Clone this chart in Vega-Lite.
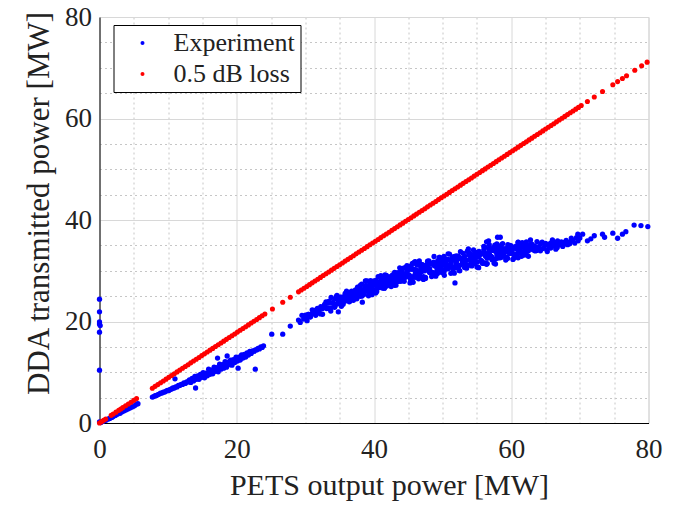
{
"$schema": "https://vega.github.io/schema/vega-lite/v6.json",
"width": 549,
"height": 406,
"autosize": {"type": "none"},
"padding": {"left": 99.5, "top": 17, "right": 32, "bottom": 87},
"background": "white",
"config": {
  "font": "Liberation Serif",
  "view": {"stroke": "#d4d4d4", "strokeWidth": 1}
},
"datasets": {
  "exp": [
    {"x":0,"y":24.4},{"x":0,"y":21.9},{"x":0,"y":19.9},{"x":0,"y":19.5},{"x":0.1,"y":19.2},{"x":0,"y":17.9},{"x":0,"y":10.4},{"x":0,"y":0.2},{"x":0.2,"y":0.1},
    {"x":0.5,"y":0.3},{"x":0.8,"y":0.5},{"x":1.0,"y":0.6},{"x":1.3,"y":0.8},{"x":1.5,"y":0.9},{"x":1.8,"y":1.1},{"x":2.0,"y":1.3},{"x":2.3,"y":1.5},{"x":2.6,"y":1.7},{"x":3.0,"y":1.9},{"x":3.3,"y":2.2},{"x":3.6,"y":2.4},{"x":3.9,"y":2.6},{"x":4.2,"y":2.8},{"x":4.5,"y":3.0},{"x":4.8,"y":3.2},{"x":5.1,"y":3.4},{"x":5.4,"y":3.7},{"x":5.6,"y":3.8},
    {"x":7.7,"y":5.1},{"x":7.9,"y":5.2},{"x":8.1,"y":5.4},{"x":8.3,"y":5.4},{"x":8.5,"y":5.6},{"x":8.7,"y":5.7},{"x":8.9,"y":5.9},{"x":9.1,"y":5.9},{"x":9.3,"y":6.1},{"x":9.5,"y":6.1},{"x":9.7,"y":6.3},{"x":9.9,"y":6.4},{"x":10.1,"y":6.4},{"x":10.3,"y":6.6},{"x":10.5,"y":6.7},{"x":10.7,"y":6.9},{"x":10.9,"y":6.9},{"x":11.1,"y":7.1},{"x":11.3,"y":7.1},{"x":11.5,"y":7.4},{"x":11.7,"y":7.4},{"x":11.9,"y":7.6},{"x":12.1,"y":7.6},{"x":12.3,"y":7.9},{"x":12.5,"y":7.8},{"x":12.7,"y":8.1},{"x":12.9,"y":8.1},
    {"x":13.1,"y":8.5},{"x":13.3,"y":8.0},{"x":13.5,"y":8.8},{"x":13.7,"y":8.3},{"x":13.9,"y":9.2},{"x":14.1,"y":8.6},{"x":14.3,"y":9.3},{"x":14.5,"y":8.6},{"x":14.7,"y":9.6},{"x":14.9,"y":9.0},{"x":15.1,"y":9.9},{"x":15.3,"y":8.9},{"x":15.5,"y":9.8},{"x":15.7,"y":9.3},{"x":15.9,"y":10.6},{"x":16.1,"y":9.6},{"x":16.3,"y":10.4},{"x":16.5,"y":9.7},{"x":16.7,"y":11.0},{"x":16.9,"y":10.2},{"x":17.1,"y":10.9},{"x":17.3,"y":10.1},{"x":17.5,"y":11.6},{"x":17.7,"y":10.6},{"x":17.9,"y":11.5},{"x":18.1,"y":10.8},{"x":18.3,"y":12.1},{"x":18.5,"y":11.0},{"x":18.7,"y":12.0},{"x":18.9,"y":11.5},{"x":19.1,"y":12.4},{"x":19.3,"y":11.4},{"x":19.5,"y":12.5},{"x":19.7,"y":11.9},{"x":19.9,"y":13.0},{"x":20.1,"y":12.2},{"x":20.3,"y":13.0},{"x":20.5,"y":12.4},{"x":20.7,"y":13.4},{"x":20.9,"y":12.8},{"x":21.1,"y":13.5},{"x":21.3,"y":13.0},{"x":21.5,"y":13.8},{"x":21.7,"y":13.4},{"x":21.9,"y":14.1},{"x":22.1,"y":13.7},{"x":22.3,"y":14.2},{"x":22.5,"y":14.1},{"x":22.7,"y":14.4},{"x":22.9,"y":14.4},{"x":23.1,"y":14.7},{"x":23.3,"y":14.6},{"x":23.5,"y":15.0},{"x":23.7,"y":14.9},{"x":23.9,"y":15.2},
    {"x":14.2,"y":8.9},{"x":14.6,"y":9.1},{"x":15.0,"y":9.2},{"x":15.4,"y":9.6},{"x":15.8,"y":9.7},{"x":16.2,"y":10.1},{"x":16.6,"y":10.3},{"x":17.0,"y":10.6},{"x":17.4,"y":10.8},{"x":17.8,"y":11.2},{"x":18.2,"y":11.4},{"x":18.6,"y":11.7},{"x":19.0,"y":11.8},{"x":19.4,"y":12.1},{"x":19.8,"y":12.3},{"x":20.2,"y":12.6},{"x":20.6,"y":12.8},{"x":21.0,"y":13.1},
    {"x":17.2,"y":12.8},{"x":18.6,"y":13.2},{"x":20.2,"y":10.8},{"x":22.7,"y":10.6},{"x":14.0,"y":6.9},{"x":11.0,"y":8.7},
    {"x":25.1,"y":17.5},{"x":26.7,"y":17.5},{"x":27.8,"y":19.1},
    {"x":29.00,"y":20.29},{"x":29.25,"y":19.81},{"x":29.50,"y":21.22},{"x":29.75,"y":20.47},{"x":30.00,"y":21.25},{"x":30.25,"y":20.17},{"x":30.50,"y":21.42},{"x":30.75,"y":20.97},{"x":31.00,"y":22.31},{"x":31.25,"y":21.68},{"x":31.50,"y":21.22},{"x":31.75,"y":22.57},{"x":32.00,"y":22.06},{"x":32.25,"y":22.94},{"x":32.50,"y":21.43},{"x":32.75,"y":23.01},{"x":33.00,"y":23.88},{"x":33.25,"y":22.63},{"x":33.50,"y":22.50},{"x":33.75,"y":24.75},
    {"x":34.00,"y":23.64},{"x":34.25,"y":22.81},{"x":34.50,"y":24.92},{"x":34.75,"y":23.67},{"x":35.00,"y":24.80},{"x":35.25,"y":22.99},{"x":35.50,"y":24.82},{"x":35.75,"y":23.99},{"x":36.00,"y":25.96},{"x":36.25,"y":24.85},{"x":36.50,"y":24.02},{"x":36.75,"y":25.99},{"x":37.00,"y":25.16},{"x":37.25,"y":26.01},{"x":37.50,"y":24.48},{"x":37.75,"y":26.03},{"x":38.00,"y":27.09},{"x":38.25,"y":25.52},{"x":38.50,"y":25.30},{"x":38.75,"y":27.98},
    {"x":39.00,"y":26.57},{"x":39.25,"y":25.53},{"x":39.50,"y":28.06},{"x":39.75,"y":26.51},{"x":40.00,"y":27.85},{"x":40.25,"y":25.60},{"x":40.50,"y":27.76},{"x":40.75,"y":26.70},{"x":41.00,"y":29.03},{"x":41.25,"y":27.63},{"x":41.50,"y":26.56},{"x":41.75,"y":28.90},{"x":42.00,"y":27.83},{"x":42.25,"y":28.81},{"x":42.50,"y":26.89},{"x":42.75,"y":28.72},{"x":43.00,"y":29.69},{"x":43.25,"y":28.12},{"x":43.50,"y":27.90},{"x":43.75,"y":30.58},
    {"x":44.00,"y":29.17},{"x":44.25,"y":28.11},{"x":44.50,"y":30.61},{"x":44.75,"y":29.04},{"x":45.00,"y":30.60},{"x":45.25,"y":27.60},{"x":45.50,"y":30.31},{"x":45.75,"y":28.85},{"x":46.00,"y":31.78},{"x":46.25,"y":29.88},{"x":46.50,"y":28.41},{"x":46.75,"y":31.35},{"x":47.00,"y":29.88},{"x":47.25,"y":31.06},{"x":47.50,"y":28.49},{"x":47.75,"y":30.77},{"x":48.00,"y":31.94},{"x":48.25,"y":29.82},{"x":48.50,"y":29.45},{"x":48.75,"y":32.83},
    {"x":49.00,"y":30.92},{"x":49.25,"y":29.46},{"x":49.50,"y":32.61},{"x":49.75,"y":30.49},{"x":50.00,"y":32.10},{"x":50.25,"y":29.10},{"x":50.50,"y":31.81},{"x":50.75,"y":30.35},{"x":51.00,"y":33.28},{"x":51.25,"y":31.38},{"x":51.50,"y":29.91},{"x":51.75,"y":32.85},{"x":52.00,"y":31.38},{"x":52.25,"y":32.56},{"x":52.50,"y":29.99},{"x":52.75,"y":32.27},{"x":53.00,"y":33.44},{"x":53.25,"y":31.32},{"x":53.50,"y":30.95},{"x":53.75,"y":34.33},
    {"x":54.00,"y":32.42},{"x":54.25,"y":30.96},{"x":54.50,"y":34.11},{"x":54.75,"y":31.99},{"x":55.00,"y":33.60},{"x":55.25,"y":30.60},{"x":55.50,"y":33.31},{"x":55.75,"y":31.85},{"x":56.00,"y":34.78},{"x":56.25,"y":32.88},{"x":56.50,"y":31.41},{"x":56.75,"y":34.35},{"x":57.00,"y":32.88},{"x":57.25,"y":34.06},{"x":57.50,"y":31.49},{"x":57.75,"y":33.77},{"x":58.00,"y":34.66},{"x":58.25,"y":32.91},{"x":58.50,"y":32.60},{"x":58.75,"y":35.35},
    {"x":59.00,"y":33.78},{"x":59.25,"y":32.57},{"x":59.50,"y":35.14},{"x":59.75,"y":33.39},{"x":60.00,"y":34.70},{"x":60.25,"y":32.23},{"x":60.50,"y":34.44},{"x":60.75,"y":33.23},{"x":61.00,"y":35.62},{"x":61.25,"y":34.05},{"x":61.50,"y":32.84},{"x":61.75,"y":35.23},{"x":62.00,"y":34.02},{"x":62.25,"y":34.97},{"x":62.50,"y":32.86},{"x":62.75,"y":34.71},{"x":63.00,"y":35.24},{"x":63.25,"y":34.09},{"x":63.50,"y":33.90},{"x":63.75,"y":35.75},
    {"x":64.00,"y":34.72},{"x":64.25,"y":33.93},{"x":64.50,"y":35.66},{"x":64.75,"y":34.51},{"x":65.00,"y":35.40},{"x":65.25,"y":33.77},{"x":65.50,"y":35.26},{"x":65.75,"y":34.47},{"x":66.00,"y":36.08},{"x":66.25,"y":35.05},{"x":66.50,"y":34.26},{"x":66.75,"y":35.87},{"x":67.00,"y":35.13},{"x":67.25,"y":35.56},{"x":67.50,"y":34.79},{"x":67.75,"y":35.57},{"x":68.00,"y":35.99},{"x":68.25,"y":35.37},{"x":68.50,"y":35.30},{"x":68.75,"y":36.43},
    {"x":69.00,"y":35.87},{"x":69.25,"y":35.46},{"x":69.50,"y":36.51},{"x":69.75,"y":35.89},{"x":70.00,"y":36.45},
    {"x":33.1,"y":22.54},{"x":33.4,"y":23.98},{"x":33.7,"y":22.06},{"x":34.0,"y":23.78},{"x":34.3,"y":22.98},{"x":34.6,"y":25.12},{"x":34.9,"y":23.90},{"x":35.2,"y":24.78},{"x":35.5,"y":23.42},{"x":35.8,"y":25.56},{"x":36.1,"y":24.76},{"x":36.4,"y":24.38},{"x":36.7,"y":25.82},{"x":37.0,"y":24.18},{"x":37.3,"y":25.62},{"x":37.6,"y":26.08},{"x":37.9,"y":25.00},{"x":38.2,"y":27.37},{"x":38.5,"y":25.84},{"x":38.8,"y":27.96},
    {"x":39.1,"y":25.95},{"x":39.4,"y":27.66},{"x":39.7,"y":25.29},{"x":40.0,"y":27.34},{"x":40.3,"y":26.30},{"x":40.6,"y":28.83},{"x":40.9,"y":27.28},{"x":41.2,"y":28.28},{"x":41.5,"y":26.56},{"x":41.8,"y":29.09},{"x":42.1,"y":28.05},{"x":42.4,"y":27.52},{"x":42.7,"y":29.20},{"x":43.0,"y":27.14},{"x":43.3,"y":28.82},{"x":43.6,"y":29.31},{"x":43.9,"y":27.93},{"x":44.2,"y":30.46},{"x":44.5,"y":28.91},{"x":44.8,"y":31.02},
    {"x":45.1,"y":28.87},{"x":45.4,"y":30.94},{"x":45.7,"y":27.73},{"x":46.0,"y":30.24},{"x":46.3,"y":28.79},{"x":46.6,"y":31.96},{"x":46.9,"y":29.85},{"x":47.2,"y":31.04},{"x":47.5,"y":28.71},{"x":47.8,"y":31.88},{"x":48.1,"y":30.43},{"x":48.4,"y":29.64},{"x":48.7,"y":31.71},{"x":49.0,"y":28.94},{"x":49.3,"y":31.01},{"x":49.6,"y":31.54},{"x":49.9,"y":29.65},{"x":50.2,"y":32.82},{"x":50.5,"y":30.71},{"x":50.8,"y":33.33},
    {"x":51.1,"y":30.67},{"x":51.4,"y":32.74},{"x":51.7,"y":29.53},{"x":52.0,"y":32.04},{"x":52.3,"y":30.59},{"x":52.6,"y":33.76},{"x":52.9,"y":31.65},{"x":53.2,"y":32.84},{"x":53.5,"y":30.51},{"x":53.8,"y":33.68},{"x":54.1,"y":32.23},{"x":54.4,"y":31.44},{"x":54.7,"y":33.51},{"x":55.0,"y":30.74},{"x":55.3,"y":32.81},{"x":55.6,"y":33.34},{"x":55.9,"y":31.45},{"x":56.2,"y":34.62},{"x":56.5,"y":32.51},{"x":56.8,"y":35.13},
    {"x":57.1,"y":32.47},{"x":57.4,"y":34.54},{"x":57.7,"y":31.33},{"x":58.0,"y":33.76},{"x":58.3,"y":32.56},{"x":58.6,"y":35.14},{"x":58.9,"y":33.40},{"x":59.2,"y":34.36},{"x":59.5,"y":32.44},{"x":59.8,"y":35.02},{"x":60.1,"y":33.82},{"x":60.4,"y":33.16},{"x":60.7,"y":34.84},{"x":61.0,"y":32.56},{"x":61.3,"y":34.24},{"x":61.6,"y":34.66},{"x":61.9,"y":33.10},{"x":62.2,"y":35.68},{"x":62.5,"y":33.94},{"x":62.8,"y":36.07},
    {"x":35.15,"y":24.61},{"x":35.50,"y":24.12},{"x":35.85,"y":24.61},{"x":36.20,"y":24.19},{"x":36.55,"y":25.73},{"x":36.90,"y":25.10},{"x":37.25,"y":25.73},{"x":37.60,"y":25.17},{"x":37.95,"y":26.43},{"x":38.30,"y":25.13},{"x":38.65,"y":26.77},{"x":39.00,"y":26.06},{"x":39.35,"y":26.59},{"x":39.70,"y":26.07},{"x":40.05,"y":27.88},{"x":40.40,"y":27.03},{"x":40.75,"y":27.72},{"x":41.10,"y":26.95},{"x":41.45,"y":28.41},{"x":41.80,"y":26.96},
    {"x":42.15,"y":28.59},{"x":42.50,"y":27.91},{"x":42.85,"y":28.43},{"x":43.20,"y":27.83},{"x":43.55,"y":29.63},{"x":43.90,"y":28.78},{"x":44.25,"y":29.47},{"x":44.60,"y":28.70},{"x":44.95,"y":30.16},{"x":45.30,"y":28.38},{"x":45.65,"y":30.36},{"x":46.00,"y":29.36},{"x":46.35,"y":29.91},{"x":46.70,"y":29.02},{"x":47.05,"y":31.22},{"x":47.40,"y":30.00},{"x":47.75,"y":30.77},{"x":48.10,"y":29.66},{"x":48.45,"y":31.42},{"x":48.80,"y":29.43},
    {"x":49.15,"y":31.41},{"x":49.50,"y":30.41},{"x":49.85,"y":30.96},{"x":50.20,"y":30.07},{"x":50.55,"y":32.27},{"x":50.90,"y":31.05},{"x":51.25,"y":31.82},{"x":51.60,"y":30.71},{"x":51.95,"y":32.47},{"x":52.30,"y":30.48},{"x":52.65,"y":32.46},{"x":53.00,"y":31.46},{"x":53.35,"y":32.01},{"x":53.70,"y":31.12},{"x":54.05,"y":33.32},{"x":54.40,"y":32.10},{"x":54.75,"y":32.87},{"x":55.10,"y":31.76},{"x":55.45,"y":33.52},{"x":55.80,"y":31.53},
    {"x":56.15,"y":33.51},{"x":56.50,"y":32.51},{"x":56.85,"y":33.06},{"x":57.20,"y":32.17},{"x":57.55,"y":34.37},{"x":57.90,"y":33.15},{"x":58.25,"y":33.81},{"x":58.60,"y":32.89},{"x":58.95,"y":34.31},{"x":59.30,"y":32.67},{"x":59.65,"y":34.27},{"x":60.00,"y":33.44},
    {"x":30.1,"y":20.73},{"x":30.4,"y":21.40},{"x":30.7,"y":20.88},{"x":31.0,"y":21.59},{"x":31.3,"y":22.21},{"x":31.6,"y":21.65},{"x":31.9,"y":22.36},{"x":32.2,"y":21.50},{"x":32.5,"y":22.55},{"x":32.8,"y":23.39},{"x":33.1,"y":22.75},{"x":33.4,"y":23.63},{"x":33.7,"y":22.69},{"x":34.0,"y":23.64},{"x":34.3,"y":24.45},{"x":34.6,"y":23.44},{"x":34.9,"y":24.39},{"x":35.2,"y":23.38},{"x":35.5,"y":24.40},{"x":35.8,"y":25.21},
    {"x":36.1,"y":24.55},{"x":36.4,"y":25.43},{"x":36.7,"y":24.49},{"x":37.0,"y":25.44},{"x":37.3,"y":26.25},{"x":37.6,"y":25.24},{"x":37.9,"y":26.19},{"x":38.2,"y":24.98},{"x":38.5,"y":26.15},{"x":38.8,"y":27.07},{"x":39.1,"y":26.20},{"x":39.4,"y":27.24},{"x":39.7,"y":26.05},{"x":40.0,"y":27.17},{"x":40.3,"y":28.09},{"x":40.6,"y":26.79},{"x":40.9,"y":27.88},{"x":41.2,"y":26.58},{"x":41.5,"y":27.75},{"x":41.8,"y":28.67},
    {"x":42.1,"y":27.79},{"x":42.4,"y":28.80},{"x":42.7,"y":27.58},{"x":43.0,"y":28.67},{"x":43.3,"y":29.59},{"x":43.6,"y":28.29},{"x":43.9,"y":29.38},{"x":44.2,"y":28.08},{"x":44.5,"y":29.25},{"x":44.8,"y":30.17},{"x":45.1,"y":29.20},{"x":45.4,"y":30.39},{"x":45.7,"y":28.72},{"x":46.0,"y":30.02},{"x":46.3,"y":31.10},{"x":46.6,"y":29.32},{"x":46.9,"y":30.62},{"x":47.2,"y":28.84},{"x":47.5,"y":30.25},{"x":47.8,"y":31.33},
    {"x":48.1,"y":30.10},{"x":48.4,"y":31.29},{"x":48.7,"y":29.62},{"x":49.0,"y":30.92},{"x":49.3,"y":32.00},{"x":49.6,"y":30.22},{"x":49.9,"y":31.52},{"x":50.2,"y":29.74},{"x":50.5,"y":31.15},{"x":50.8,"y":32.23},{"x":51.1,"y":31.00},{"x":51.4,"y":32.19},{"x":51.7,"y":30.52},{"x":52.0,"y":31.82},{"x":52.3,"y":32.90},{"x":52.6,"y":31.12},{"x":52.9,"y":32.42},{"x":53.2,"y":30.64},{"x":53.5,"y":32.05},{"x":53.8,"y":33.13},
    {"x":54.1,"y":31.90},{"x":54.4,"y":33.09},{"x":54.7,"y":31.42},{"x":55.0,"y":32.72},{"x":55.3,"y":33.80},{"x":55.6,"y":32.02},{"x":55.9,"y":33.32},{"x":56.2,"y":31.54},{"x":56.5,"y":32.95},{"x":56.8,"y":34.03},{"x":57.1,"y":32.80},{"x":57.4,"y":33.99},{"x":57.7,"y":32.32},{"x":58.0,"y":33.58},{"x":58.3,"y":34.45},{"x":58.6,"y":32.98},{"x":58.9,"y":34.03},{"x":59.2,"y":32.56},{"x":59.5,"y":33.70},{"x":59.8,"y":34.57},
    {"x":60.1,"y":33.55},{"x":60.4,"y":34.51},{"x":60.7,"y":33.13},{"x":61.0,"y":34.18},{"x":61.3,"y":35.05},{"x":61.6,"y":33.58},{"x":61.9,"y":34.63},{"x":62.2,"y":33.16},{"x":62.5,"y":34.30},{"x":62.8,"y":35.17},{"x":63.1,"y":34.24},{"x":63.4,"y":34.90},{"x":63.7,"y":34.00},{"x":64.0,"y":34.72},{"x":64.3,"y":35.32},{"x":64.6,"y":34.36},{"x":64.9,"y":35.08},{"x":65.2,"y":34.12},{"x":65.5,"y":34.90},{"x":65.8,"y":35.50},
    {"x":66.1,"y":34.84},{"x":66.4,"y":35.50},{"x":66.7,"y":34.60},{"x":67.0,"y":35.27},{"x":67.3,"y":35.68},{"x":67.6,"y":35.17},{"x":67.9,"y":35.65},{"x":68.2,"y":35.14},{"x":68.5,"y":35.65},{"x":68.8,"y":36.06},
    {"x":36.0,"y":25.54},{"x":36.4,"y":23.89},{"x":36.8,"y":25.39},{"x":37.2,"y":25.07},{"x":37.6,"y":26.78},{"x":38.0,"y":25.05},{"x":38.4,"y":26.19},{"x":38.8,"y":26.98},{"x":39.2,"y":25.07},{"x":39.6,"y":27.27},{"x":40.0,"y":28.02},{"x":40.4,"y":25.92},{"x":40.8,"y":27.66},{"x":41.2,"y":27.17},{"x":41.6,"y":29.16},{"x":42.0,"y":27.15},{"x":42.4,"y":28.29},{"x":42.8,"y":29.08},{"x":43.2,"y":27.15},{"x":43.6,"y":29.31},
    {"x":44.0,"y":30.02},{"x":44.4,"y":27.92},{"x":44.8,"y":29.66},{"x":45.2,"y":29.01},{"x":45.6,"y":31.44},{"x":46.0,"y":28.70},{"x":46.4,"y":30.03},{"x":46.8,"y":30.92},{"x":47.2,"y":28.29},{"x":47.6,"y":30.94},{"x":48.0,"y":31.72},{"x":48.4,"y":28.87},{"x":48.8,"y":30.97},{"x":49.2,"y":30.21},{"x":49.6,"y":32.64},{"x":50.0,"y":29.90},{"x":50.4,"y":31.23},{"x":50.8,"y":32.12},{"x":51.2,"y":29.49},{"x":51.6,"y":32.14},
    {"x":52.0,"y":32.92},{"x":52.4,"y":30.07},{"x":52.8,"y":32.17},{"x":53.2,"y":31.41},{"x":53.6,"y":33.84},{"x":54.0,"y":31.10},{"x":54.4,"y":32.43},{"x":54.8,"y":33.32},{"x":55.2,"y":30.69},{"x":55.6,"y":33.34},{"x":56.0,"y":34.12},{"x":56.4,"y":31.27},{"x":56.8,"y":33.37},{"x":57.2,"y":32.61},{"x":57.6,"y":35.04},{"x":58.0,"y":32.50},{"x":58.4,"y":33.57},{"x":58.8,"y":34.28},{"x":59.2,"y":32.11},{"x":59.6,"y":34.26},
    {"x":60.0,"y":34.88},{"x":60.4,"y":32.53},{"x":60.8,"y":34.23},{"x":61.2,"y":33.59},{"x":61.6,"y":35.56},{"x":62.0,"y":33.30},
    {"x":34.8,"y":21.9},{"x":38.3,"y":23.8},{"x":39.0,"y":28.0},{"x":45.9,"y":31.7},{"x":46.2,"y":31.3},{"x":51.8,"y":27.6},{"x":56.4,"y":35.7},{"x":56.7,"y":35.9},{"x":57.9,"y":35.3},{"x":58.0,"y":36.6},{"x":58.4,"y":36.6},{"x":61.5,"y":35.3},{"x":61.0,"y":35.6},{"x":69.7,"y":37.2},
    {"x":70.4,"y":37.2},{"x":71.1,"y":35.9},{"x":71.6,"y":36.3},{"x":72.1,"y":36.9},{"x":73.3,"y":37.2},{"x":73.6,"y":36.6},{"x":74.8,"y":37.4},{"x":75.5,"y":36.4},{"x":76.2,"y":37.2},{"x":76.7,"y":37.7},{"x":77.9,"y":39.0},{"x":78.9,"y":38.9},{"x":79.9,"y":38.7}
  ],
  "loss": [
    {"x":0,"y":0},{"x":0.3,"y":0.27},{"x":0.6,"y":0.53},{"x":0.9,"y":0.80},{"x":1.7,"y":1.51},{"x":2.0,"y":1.78},{"x":2.4,"y":2.14},{"x":2.8,"y":2.49},{"x":3.1,"y":2.76},{"x":3.4,"y":3.03},{"x":3.8,"y":3.39},{"x":4.2,"y":3.74},{"x":4.6,"y":4.10},{"x":5.0,"y":4.46},{"x":5.4,"y":4.81},
    {"x":7.7,"y":6.86},{"x":8.1,"y":7.22},{"x":8.5,"y":7.57},{"x":8.9,"y":7.93},{"x":9.3,"y":8.29},{"x":9.7,"y":8.64},{"x":10.1,"y":9.00},{"x":10.5,"y":9.36},{"x":10.9,"y":9.71},{"x":11.3,"y":10.07},{"x":11.7,"y":10.42},{"x":12.1,"y":10.78},{"x":12.5,"y":11.14},{"x":12.9,"y":11.49},{"x":13.3,"y":11.85},{"x":13.7,"y":12.21},{"x":14.1,"y":12.56},{"x":14.5,"y":12.92},{"x":14.9,"y":13.28},{"x":15.3,"y":13.63},{"x":15.7,"y":13.99},{"x":16.1,"y":14.35},{"x":16.5,"y":14.70},{"x":16.9,"y":15.06},{"x":17.3,"y":15.41},{"x":17.7,"y":15.77},{"x":18.1,"y":16.13},{"x":18.5,"y":16.48},{"x":18.9,"y":16.84},{"x":19.3,"y":17.20},{"x":19.7,"y":17.55},{"x":20.1,"y":17.91},{"x":20.5,"y":18.27},{"x":20.9,"y":18.62},{"x":21.3,"y":18.98},{"x":21.7,"y":19.33},{"x":22.1,"y":19.69},{"x":22.5,"y":20.05},{"x":22.9,"y":20.40},{"x":23.3,"y":20.76},{"x":23.7,"y":21.12},{"x":24.1,"y":21.47},
    {"x":25.2,"y":22.45},{"x":26.7,"y":23.79},{"x":27.8,"y":24.77},
    {"x":29.0,"y":25.84},{"x":29.4,"y":26.20},{"x":29.8,"y":26.55},{"x":30.2,"y":26.91},{"x":30.6,"y":27.26},{"x":31.0,"y":27.62},{"x":31.4,"y":27.98},{"x":31.8,"y":28.33},{"x":32.2,"y":28.69},{"x":32.6,"y":29.05},{"x":33.0,"y":29.40},{"x":33.4,"y":29.76},{"x":33.8,"y":30.12},{"x":34.2,"y":30.47},{"x":34.6,"y":30.83},{"x":35.0,"y":31.19},{"x":35.4,"y":31.54},{"x":35.8,"y":31.90},{"x":36.2,"y":32.25},{"x":36.6,"y":32.61},{"x":37.0,"y":32.97},{"x":37.4,"y":33.32},{"x":37.8,"y":33.68},{"x":38.2,"y":34.04},{"x":38.6,"y":34.39},{"x":39.0,"y":34.75},{"x":39.4,"y":35.11},{"x":39.8,"y":35.46},{"x":40.2,"y":35.82},{"x":40.6,"y":36.17},{"x":41.0,"y":36.53},{"x":41.4,"y":36.89},{"x":41.8,"y":37.24},{"x":42.2,"y":37.60},{"x":42.6,"y":37.96},{"x":43.0,"y":38.31},{"x":43.4,"y":38.67},{"x":43.8,"y":39.03},{"x":44.2,"y":39.38},{"x":44.6,"y":39.74},{"x":45.0,"y":40.10},{"x":45.4,"y":40.45},{"x":45.8,"y":40.81},{"x":46.2,"y":41.16},{"x":46.6,"y":41.52},{"x":47.0,"y":41.88},{"x":47.4,"y":42.23},{"x":47.8,"y":42.59},{"x":48.2,"y":42.95},{"x":48.6,"y":43.30},{"x":49.0,"y":43.66},{"x":49.4,"y":44.02},{"x":49.8,"y":44.37},{"x":50.2,"y":44.73},{"x":50.6,"y":45.08},{"x":51.0,"y":45.44},{"x":51.4,"y":45.80},{"x":51.8,"y":46.15},{"x":52.2,"y":46.51},{"x":52.6,"y":46.87},{"x":53.0,"y":47.22},{"x":53.4,"y":47.58},{"x":53.8,"y":47.94},{"x":54.2,"y":48.29},{"x":54.6,"y":48.65},{"x":55.0,"y":49.01},{"x":55.4,"y":49.36},{"x":55.8,"y":49.72},{"x":56.2,"y":50.07},{"x":56.6,"y":50.43},{"x":57.0,"y":50.79},{"x":57.4,"y":51.14},{"x":57.8,"y":51.50},{"x":58.2,"y":51.86},{"x":58.6,"y":52.21},{"x":59.0,"y":52.57},{"x":59.4,"y":52.93},{"x":59.8,"y":53.28},{"x":60.2,"y":53.64},{"x":60.6,"y":53.99},{"x":61.0,"y":54.35},{"x":61.4,"y":54.71},{"x":61.8,"y":55.06},{"x":62.2,"y":55.42},{"x":62.6,"y":55.78},{"x":63.0,"y":56.13},{"x":63.4,"y":56.49},{"x":63.8,"y":56.85},{"x":64.2,"y":57.20},{"x":64.6,"y":57.56},{"x":65.0,"y":57.92},{"x":65.4,"y":58.27},{"x":65.8,"y":58.63},{"x":66.2,"y":58.98},{"x":66.6,"y":59.34},{"x":67.0,"y":59.70},{"x":67.4,"y":60.05},{"x":67.8,"y":60.41},{"x":68.2,"y":60.77},{"x":68.6,"y":61.12},{"x":69.0,"y":61.48},{"x":69.4,"y":61.84},{"x":69.8,"y":62.19},{"x":70.2,"y":62.55},
    {"x":71.1,"y":63.35},{"x":72.1,"y":64.24},{"x":73.3,"y":65.31},{"x":74.8,"y":66.65},{"x":75.5,"y":67.27},{"x":76.2,"y":67.89},{"x":76.8,"y":68.43},{"x":78.0,"y":69.50},{"x":79.0,"y":70.39},{"x":79.8,"y":71.10}
  ]
},
"encoding": {
  "x": {
    "field": "x", "type": "quantitative",
    "scale": {"domain": [0, 80], "nice": false, "zero": false},
    "axis": {
      "title": "PETS output power [MW]",
      "values": [0,5,10,15,20,25,30,35,40,45,50,55,60,65,70,75,80],
      "labelExpr": "datum.value % 20 === 0 ? datum.label : ''",
      "grid": true,
      "gridColor": {"condition": {"test": "datum.value % 20 === 0", "value": "#d8d8d8"}, "value": "#c6c6c6"},
      "gridDash": {"condition": {"test": "datum.value % 20 === 0", "value": []}, "value": [2, 3]},
      "gridWidth": 1,
      "ticks": false,
      "domainColor": "#000000",
      "domainWidth": 1,
      "labelFont": "Liberation Serif",
      "labelFontSize": 27,
      "labelColor": "#222222",
      "labelPadding": 13,
      "labelFlush": false,
      "labelOverlap": false,
      "titleFont": "Liberation Serif",
      "titleFontSize": 30,
      "titleFontWeight": "normal",
      "titleColor": "#222222",
      "titlePadding": 8,
      "titleX": 289.5
    }
  },
  "y": {
    "field": "y", "type": "quantitative",
    "scale": {"domain": [0, 80], "nice": false, "zero": false},
    "axis": {
      "title": "DDA transmitted power [MW]",
      "values": [0,5,10,15,20,25,30,35,40,45,50,55,60,65,70,75,80],
      "labelExpr": "datum.value % 20 === 0 ? datum.label : ''",
      "grid": true,
      "gridColor": {"condition": {"test": "datum.value % 20 === 0", "value": "#d8d8d8"}, "value": "#c6c6c6"},
      "gridDash": {"condition": {"test": "datum.value % 20 === 0", "value": []}, "value": [2, 3]},
      "gridWidth": 1,
      "ticks": false,
      "domainColor": "#000000",
      "domainWidth": 1,
      "labelFont": "Liberation Serif",
      "labelFontSize": 27,
      "labelColor": "#222222",
      "labelPadding": 8,
      "labelFlush": false,
      "labelOverlap": false,
      "titleFont": "Liberation Serif",
      "titleFontSize": 31,
      "titleFontWeight": "normal",
      "titleColor": "#222222",
      "titlePadding": 9,
      "titleY": 186
    }
  }
},
"layer": [
  {
    "data": {"name": "exp"},
    "mark": {"type": "point", "filled": true, "size": 28, "opacity": 1},
    "encoding": {
      "color": {"datum": "Experiment", "type": "nominal",
        "scale": {"domain": ["Experiment", "0.5 dB loss"], "range": ["#0000ff", "#ff0000"]},
        "legend": {
          "title": null, "orient": "none", "legendX": 14, "legendY": 8,
          "fillColor": "white", "strokeColor": "#000000", "padding": 5, "rowPadding": 5,
          "symbolType": "circle", "symbolSize": 16, "symbolStrokeWidth": 0, "symbolOffset": 11,
          "labelFont": "Liberation Serif", "labelFontSize": 26, "labelColor": "#222222", "labelOffset": 18
        }
      }
    }
  },
  {
    "data": {"name": "loss"},
    "mark": {"type": "point", "filled": true, "size": 26, "opacity": 1},
    "encoding": {
      "color": {"datum": "0.5 dB loss", "type": "nominal"}
    }
  }
]
}
